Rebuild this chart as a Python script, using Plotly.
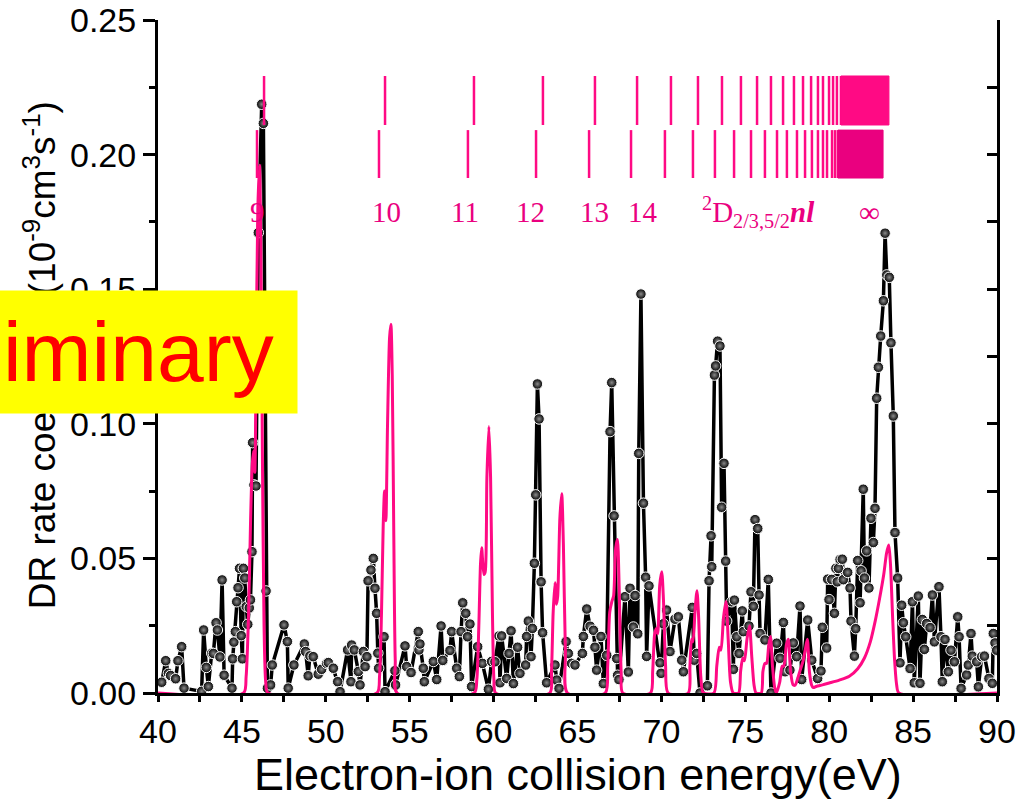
import plotly.graph_objects as go

# ---------------- data ----------------
exp_energy = [
    40.22, 40.46, 40.62, 40.75, 41.05, 41.19, 41.41, 41.55, 42.60, 42.72, 42.88, 43.00, 43.20, 43.30,
    43.46, 43.54, 43.69, 43.82, 43.94, 44.41, 44.45, 44.52, 44.61, 44.69, 44.77, 44.86, 44.96, 45.03,
    45.09, 45.17, 45.26, 45.35, 45.44, 45.51, 45.60, 45.64, 45.72, 45.84, 45.98, 46.18, 46.28, 46.44,
    46.52, 46.71, 46.81, 47.51, 47.71, 47.76, 48.10, 48.72, 48.80, 48.95, 49.05, 49.25, 49.55, 49.75,
    50.05, 50.15, 50.45, 50.71, 50.85, 51.30, 51.50, 51.54, 51.70, 51.94, 52.04, 52.24, 52.34, 52.45,
    52.52, 52.69, 52.83, 52.93, 53.03, 53.10, 53.15, 53.47, 53.53, 54.12, 54.16, 54.72, 54.82, 55.08,
    55.51, 55.55, 55.61, 55.81, 55.87, 56.41, 56.61, 56.87, 56.97, 57.40, 57.50, 57.80, 57.96, 58.06,
    58.16, 58.34, 58.45, 58.59, 58.69, 59.05, 59.33, 59.69, 59.88, 60.08, 60.32, 60.38, 60.48, 60.78,
    60.92, 61.04, 61.18, 61.43, 61.57, 61.91, 61.97, 62.07, 62.23, 62.31, 62.43, 62.51, 62.61, 62.71,
    62.83, 62.92, 63.16, 63.66, 63.76, 63.90, 64.32, 64.45, 64.65, 64.85, 65.29, 65.35, 65.55, 65.75,
    65.95, 66.04, 66.14, 66.40, 66.54, 66.74, 66.94, 67.04, 67.18, 67.34, 67.39, 67.47, 67.83, 68.03,
    68.13, 68.33, 68.43, 68.59, 68.65, 68.78, 68.93, 69.06, 69.12, 69.26, 69.92, 69.98, 70.12, 70.31,
    70.51, 70.81, 71.01, 71.21, 71.31, 71.84, 71.96, 72.10, 72.30, 72.74, 72.84, 72.96, 73.00, 73.16,
    73.23, 73.35, 73.49, 73.59, 73.73, 73.83, 73.89, 74.19, 74.29, 74.35, 74.49, 74.63, 74.82, 74.88,
    75.22, 75.34, 75.48, 75.58, 75.74, 75.82, 75.88, 76.17, 76.37, 76.53, 76.87, 77.07, 77.27, 77.37,
    77.66, 77.86, 78.06, 78.26, 78.36, 78.72, 78.96, 79.31, 79.51, 79.59, 79.85, 79.91, 79.99, 80.15,
    80.31, 80.40, 80.48, 80.55, 80.65, 80.78, 80.84, 81.10, 81.24, 81.30, 81.50, 81.58, 81.70, 81.84,
    81.90, 82.03, 82.10, 82.23, 82.37, 82.49, 82.63, 82.73, 82.83, 82.93, 83.07, 83.23, 83.33, 83.43,
    83.58, 83.68, 83.82, 83.92, 84.08, 84.22, 84.32, 84.42, 84.56, 84.82, 84.96, 85.07, 85.31, 85.41,
    85.55, 85.67, 85.81, 86.01, 86.15, 86.27, 86.54, 86.66, 86.74, 86.90, 87.10, 87.26, 87.46, 87.66,
    87.74, 87.86, 88.19, 88.29, 88.45, 88.53, 88.79, 88.89, 89.09, 89.25, 89.52, 89.72, 89.78, 89.88,
    89.98,
]
exp_rate = [
    0.0040, 0.0120, 0.0073, 0.0065, 0.0053, 0.0120, 0.0172, 0.0018, 0.0006, 0.0234, 0.0095, 0.0024, 0.0148, 0.0147,
    0.0261, 0.0234, 0.0134, 0.0420, 0.0066, 0.0018, 0.0127, 0.0189, 0.0228, 0.0339, 0.0391, 0.0463, 0.0213, 0.0127,
    0.0463, 0.0427, 0.0321, 0.0255, 0.0316, 0.0346, 0.0525, 0.0930, 0.0773, 0.0769, 0.1710, 0.2187, 0.2116, 0.0379,
    0.0018, 0.0030, 0.0104, 0.0253, 0.0191, 0.0018, 0.0104, 0.0182, 0.0154, 0.0064, 0.0138, 0.0135, 0.0070, 0.0088,
    0.0110, 0.0113, 0.0092, 0.0042, 0.0005, 0.0160, 0.0042, 0.0178, 0.0160, 0.0080, 0.0030, 0.0154, 0.0098, 0.0135,
    0.0417, 0.0457, 0.0500, 0.0389, 0.0296, 0.0148, 0.0092, 0.0209, 0.0005, 0.0083, 0.0030, 0.0175, 0.0098, 0.0076,
    0.0228, 0.0160, 0.0182, 0.0092, 0.0042, 0.0117, 0.0050, 0.0249, 0.0121, 0.0158, 0.0228, 0.0092, 0.0061, 0.0228,
    0.0335, 0.0296, 0.0209, 0.0256, 0.0024, 0.0172, 0.0110, 0.0014, 0.0117, 0.0116, 0.0212, 0.0038, 0.0212, 0.0054,
    0.0147, 0.0231, 0.0035, 0.0170, 0.0073, 0.0104, 0.0210, 0.0267, 0.0135, 0.0240, 0.0482, 0.0736, 0.1148, 0.1018,
    0.0413, 0.0224, 0.0038, 0.0104, 0.0048, 0.0017, 0.0191, 0.0147, 0.0110, 0.0104, 0.0147, 0.0210, 0.0312, 0.0248,
    0.0233, 0.0170, 0.0085, 0.0210, 0.0035, 0.0140, 0.0971, 0.1153, 0.0658, 0.0128, 0.0066, 0.0050, 0.0358, 0.0078,
    0.0389, 0.0245, 0.0362, 0.0220, 0.0890, 0.1482, 0.0705, 0.0430, 0.0136, 0.0398, 0.0112, 0.0073, 0.0257, 0.0308,
    0.0154, 0.0274, 0.0283, 0.0122, 0.0079, 0.0318, 0.0122, 0.0147, 0.0000, 0.0027, 0.0417, 0.0584, 0.0469, 0.1181,
    0.1215, 0.1307, 0.1289, 0.0690, 0.0853, 0.0490, 0.0267, 0.0339, 0.0088, 0.0345, 0.0209, 0.0147, 0.0305, 0.0228,
    0.0249, 0.0376, 0.0322, 0.0644, 0.0611, 0.0364, 0.0221, 0.0197, 0.0422, 0.0000, 0.0185, 0.0129, 0.0262, 0.0079,
    0.0085, 0.0186, 0.0135, 0.0323, 0.0050, 0.0271, 0.0122, 0.0054, 0.0082, 0.0244, 0.0167, 0.0423, 0.0347, 0.0422,
    0.0296, 0.0463, 0.0413, 0.0463, 0.0496, 0.0497, 0.0421, 0.0448, 0.0390, 0.0267, 0.0137, 0.0239, 0.0492, 0.0335,
    0.0454, 0.0757, 0.0427, 0.0528, 0.0390, 0.0649, 0.0559, 0.0686, 0.1095, 0.1210, 0.1326, 0.1457, 0.1708, 0.1553,
    0.1544, 0.1301, 0.1029, 0.0596, 0.0427, 0.0112, 0.0326, 0.0261, 0.0209, 0.0091, 0.0339, 0.0038, 0.0360, 0.0036,
    0.0273, 0.0162, 0.0258, 0.0243, 0.0364, 0.0190, 0.0395, 0.0209, 0.0042, 0.0199, 0.0079, 0.0159, 0.0116, 0.0283,
    0.0209, 0.0017, 0.0067, 0.0104, 0.0221, 0.0137, 0.0116, 0.0023, 0.0135, 0.0137, 0.0054, 0.0036, 0.0221, 0.0186,
    0.0159,
]

theory_energy = [
    40.00, 45.10, 45.25, 45.40, 45.52, 45.62, 45.70, 45.77, 45.85, 45.95, 46.05, 46.13, 46.22, 46.32, 46.42, 46.55,
    53.05, 53.20, 53.32, 53.42, 53.50, 53.58, 53.68, 53.80, 53.88, 53.96, 54.05, 54.14, 54.25,
    58.85, 59.00, 59.12, 59.22, 59.29, 59.42, 59.50, 59.60, 59.72, 59.82, 59.93, 60.02, 60.12,
    63.35, 63.45, 63.55, 63.66, 63.75, 63.82, 63.95, 64.06, 64.16, 64.28, 64.40,
    66.65, 66.80, 66.92, 67.05, 67.15, 67.28, 67.38, 67.48, 67.60, 67.70,
    69.35, 69.48, 69.60, 69.70, 69.78, 69.90, 70.02, 70.12, 70.25, 70.40,
    71.60, 71.70, 71.80, 71.88, 72.00, 72.12, 72.22, 72.35, 72.50,
    73.13, 73.30, 73.45, 73.55, 73.70, 73.85, 73.98, 74.12, 74.28,
    74.60, 74.72, 74.85, 74.95, 75.10, 75.25, 75.38, 75.52, 75.64,
    75.95, 76.05, 76.17, 76.27, 76.40, 76.50, 76.62, 76.75, 76.85,
    77.05, 77.20, 77.30, 77.45, 77.56, 77.70, 77.85, 77.98, 78.15, 78.30, 78.45, 78.60, 78.70, 78.82,
    78.95, 79.05, 79.25, 79.60, 80.00, 80.60, 81.20, 81.70, 82.10, 82.45, 82.75, 83.00, 83.25, 83.42,
    83.55, 83.65, 83.78, 83.90, 84.02, 84.15, 90.00,
]
theory_rate = [
    0.0, 0.0, 0.006, 0.030, 0.065, 0.085, 0.090, 0.082, 0.125, 0.180, 0.196, 0.165, 0.090, 0.025, 0.004, 0.0,
    0.0, 0.006, 0.030, 0.062, 0.075, 0.064, 0.100, 0.132, 0.137, 0.118, 0.060, 0.012, 0.0,
    0.0, 0.005, 0.025, 0.048, 0.054, 0.044, 0.045, 0.080, 0.099, 0.080, 0.030, 0.005, 0.0,
    0.0, 0.008, 0.030, 0.041, 0.033, 0.036, 0.065, 0.074, 0.055, 0.015, 0.0,
    0.0, 0.010, 0.030, 0.034, 0.036, 0.054, 0.057, 0.040, 0.008, 0.0,
    0.0, 0.008, 0.022, 0.024, 0.022, 0.040, 0.045, 0.035, 0.010, 0.0,
    0.0, 0.010, 0.020, 0.019, 0.030, 0.038, 0.028, 0.006, 0.0,
    0.0, 0.010, 0.017, 0.016, 0.028, 0.034, 0.020, 0.004, 0.0,
    0.0, 0.008, 0.013, 0.012, 0.020, 0.025, 0.014, 0.003, 0.0,
    0.0, 0.008, 0.011, 0.011, 0.018, 0.021, 0.010, 0.002, 0.0,
    0.004, 0.010, 0.010, 0.018, 0.020, 0.008, 0.003, 0.003, 0.006, 0.009, 0.012, 0.017, 0.020, 0.008,
    0.003, 0.002, 0.0025, 0.003, 0.0037, 0.0048, 0.0062, 0.009, 0.013, 0.019, 0.027, 0.035, 0.044, 0.052,
    0.055, 0.048, 0.028, 0.012, 0.003, 0.0, 0.0,
]

# Rydberg series markers (two fine-structure limits)
ryd_upper = [46.32, 53.53, 58.83, 62.94, 66.04, 68.55, 70.57, 72.18, 73.61, 74.74, 75.70, 76.53, 77.25,
             77.90, 78.44, 78.92, 79.33, 79.63, 79.99, 80.23, 80.46, 80.70]
ryd_upper_limit = 83.56
ryd_lower = [45.90, 53.17, 58.47, 62.53, 65.69, 68.19, 70.21, 71.88, 73.19, 74.33, 75.34, 76.17, 76.89,
             77.48, 78.08, 78.56, 78.97, 79.33, 79.63, 79.87, 80.17, 80.35, 80.52]
ryd_lower_limit = 83.21
ryd_upper_y = [0.2110, 0.2292]
ryd_lower_y = [0.1913, 0.2091]

label_texts = ["9", "10", "11", "12", "13", "14",
               "<sup>2</sup>D<sub>2/3,5/2</sub><b><i>nl</i></b>", "\u221e"]
label_energy = [45.95, 53.59, 58.30, 62.17, 66.00, 68.90, 75.76, 82.43]
label_y = 0.1788

PINK = "#FF0A84"
PINK2 = "#EA007F"
FONT = "Liberation Sans, Arial, sans-serif"
SERIF = "Liberation Serif, Times New Roman, serif"

fig = go.Figure()

fig.add_trace(go.Scatter(
    x=exp_energy, y=exp_rate, mode="lines+markers",
    line=dict(color="black", width=3.5),
    marker=dict(size=10.5, color="black", line=dict(color="white", width=1),
                gradient=dict(type="radial", color="#8a8a8a")),
    showlegend=False, hoverinfo="skip"))

fig.add_trace(go.Scatter(
    x=theory_energy, y=theory_rate, mode="lines",
    line=dict(color=PINK, width=3, shape="spline", smoothing=0.7),
    showlegend=False, hoverinfo="skip"))


def tick_lines(xs, ys):
    xx, yy = [], []
    for e in xs:
        xx += [e, e, None]
        yy += [ys[0], ys[1], None]
    return xx, yy


ux, uy = tick_lines(ryd_upper, ryd_upper_y)
fig.add_trace(go.Scatter(x=ux, y=uy, mode="lines", line=dict(color=PINK, width=2.5),
                         showlegend=False, hoverinfo="skip"))
lx, ly = tick_lines(ryd_lower, ryd_lower_y)
fig.add_trace(go.Scatter(x=lx, y=ly, mode="lines", line=dict(color=PINK, width=2.5),
                         showlegend=False, hoverinfo="skip"))
# dense convergence blocks
fig.add_trace(go.Scatter(
    x=[ryd_upper[-1], ryd_upper_limit, ryd_upper_limit, ryd_upper[-1], ryd_upper[-1]],
    y=[ryd_upper_y[0], ryd_upper_y[0], ryd_upper_y[1], ryd_upper_y[1], ryd_upper_y[0]],
    mode="lines", fill="toself", fillcolor=PINK, line=dict(color=PINK, width=1),
    showlegend=False, hoverinfo="skip"))
fig.add_trace(go.Scatter(
    x=[ryd_lower[-1], ryd_lower_limit, ryd_lower_limit, ryd_lower[-1], ryd_lower[-1]],
    y=[ryd_lower_y[0], ryd_lower_y[0], ryd_lower_y[1], ryd_lower_y[1], ryd_lower_y[0]],
    mode="lines", fill="toself", fillcolor=PINK2, line=dict(color=PINK2, width=1),
    showlegend=False, hoverinfo="skip"))

# invisible trace to activate right axis
fig.add_trace(go.Scatter(x=[40], y=[0], yaxis="y2", mode="markers",
                         marker=dict(opacity=0), showlegend=False, hoverinfo="skip"))

annotations = []
for t, e in zip(label_texts, label_energy):
    annotations.append(dict(x=e, y=label_y, xref="x", yref="y", text=t, showarrow=False,
                            font=dict(family=SERIF, size=29, color=PINK2)))

annotations.append(dict(
    x=-0.1406, y=0.502, xref="paper", yref="paper", textangle=-90, showarrow=False,
    xanchor="center", yanchor="middle",
    text="DR rate coefficient (10<sup>-9</sup>cm<sup>3</sup>s<sup>-1</sup>)",
    font=dict(family=FONT, size=37, color="black")))
annotations.append(dict(
    x=0.5, y=-0.1218, xref="paper", yref="paper", showarrow=False,
    xanchor="center", yanchor="middle",
    text="Electron-ion collision energy(eV)",
    font=dict(family=FONT, size=45, color="black")))
annotations.append(dict(
    x=0.16687, y=0.5067, xref="paper", yref="paper", xanchor="right", yanchor="middle",
    showarrow=False, text="Preliminary&nbsp;", align="right", valign="middle",
    width=450, height=122, borderpad=0, bgcolor="#FFFF00",
    font=dict(family=FONT, size=84, color="#FF0000")))

fig.update_layout(
    width=1026, height=809,
    margin=dict(l=158, r=29, t=20, b=116, autoexpand=False),
    plot_bgcolor="white", paper_bgcolor="white",
    annotations=annotations,
    xaxis=dict(range=[40, 90], dtick=5, tick0=40, showgrid=False, zeroline=False, automargin=False,
               showline=True, linecolor="black", linewidth=3,
               ticks="outside", ticklen=6, tickwidth=3, tickcolor="black",
               minor=dict(dtick=2.5, ticks="outside", ticklen=6, tickwidth=3, tickcolor="black"),
               tickfont=dict(family=FONT, size=34, color="black")),
    yaxis=dict(range=[0, 0.25], dtick=0.05, tick0=0, tickformat=".2f", showgrid=False, zeroline=False,
               automargin=False,
               showline=True, linecolor="black", linewidth=3,
               ticks="outside", ticklen=12, tickwidth=3, tickcolor="black",
               minor=dict(dtick=0.025, ticks="outside", ticklen=6, tickwidth=3, tickcolor="black"),
               tickfont=dict(family=FONT, size=34, color="black")),
    yaxis2=dict(range=[0, 0.25], overlaying="y", side="right", showgrid=False, zeroline=False,
                automargin=False,
                showline=True, linecolor="black", linewidth=3, showticklabels=False,
                ticks="inside", dtick=0.025, tick0=0, ticklen=10, tickwidth=3, tickcolor="black"),
)

fig.write_html("out.html")
